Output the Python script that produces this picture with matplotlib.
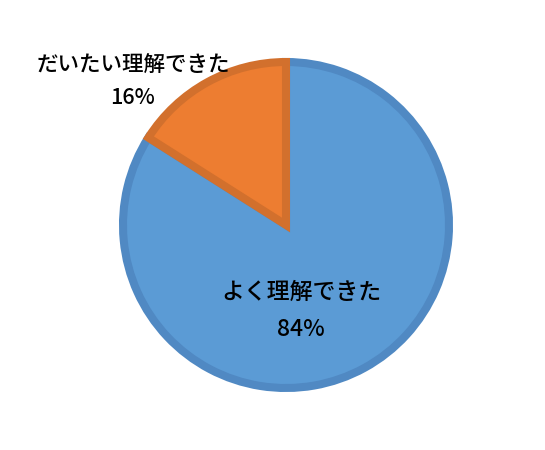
import matplotlib
matplotlib.use('Agg')
import matplotlib.pyplot as plt

plt.rcParams['font.family'] = ['Noto Sans CJK JP', 'DejaVu Sans']

labels = ['よく理解できた', 'だいたい理解できた']
values = [84, 16]
face_colors = ['#5B9BD5', '#ED7D31']
edge_colors = ['#5089C3', '#D2702D']

fig = plt.figure(figsize=(5.45, 4.5), dpi=100)
ax = fig.add_axes([0, 0, 1, 1])

wedges, _ = ax.pie(values, startangle=90, counterclock=False, colors=face_colors,
                   center=(286, 225), radius=163, frame=True,
                   wedgeprops=dict(linewidth=5.8, joinstyle='miter'))
for w, ec in zip(wedges, edge_colors):
    w.set_edgecolor(ec)
ax.set_xlim(0, 545)
ax.set_ylim(0, 450)
ax.set_aspect('equal')
ax.axis('off')

# data labels
ax.text(301, 450 - 292, labels[0], ha='center', va='center', fontsize=16.5, fontweight='medium')
ax.text(301, 450 - 330, '%d%%' % values[0], ha='center', va='center', fontsize=16.5, fontweight='medium')
ax.text(133, 450 - 66, labels[1], ha='center', va='center', fontsize=15.5, fontweight='medium')
ax.text(133, 450 - 98, '%d%%' % values[1], ha='center', va='center', fontsize=15.5, fontweight='medium')

fig.savefig('out.png', dpi=100)
